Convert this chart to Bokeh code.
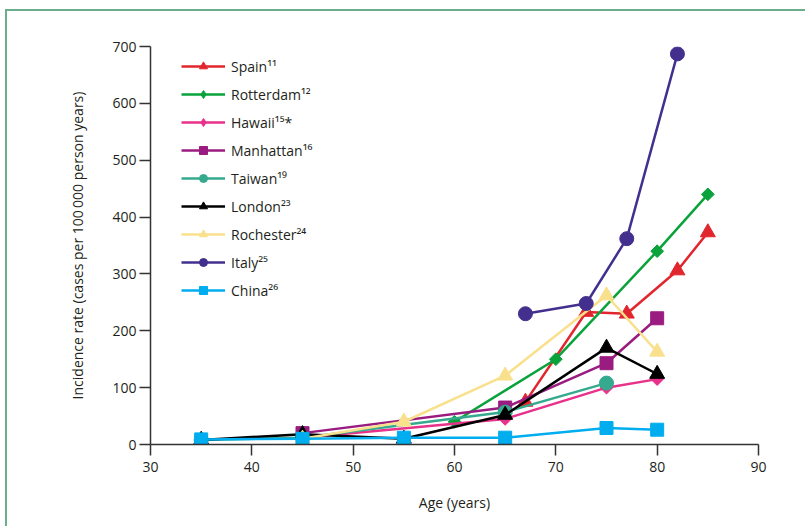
import numpy as np
from bokeh.plotting import figure
from bokeh.models import Legend, LegendItem, FixedTicker, ColumnDataSource, Range1d
from bokeh.embed import file_html
from bokeh.resources import INLINE

# ---- data ----
spain_age = [67, 73, 77, 82, 85]
spain_val = [75, 233, 230, 306, 373]
rotterdam_age = [60, 70, 80, 85]
rotterdam_val = [40, 150, 340, 440]
hawaii_age = [45, 65, 75, 80]
hawaii_val = [12, 45, 100, 115]
manhattan_age = [45, 65, 75, 80]
manhattan_val = [20, 65, 143, 222]
taiwan_age = [35, 45, 65, 75]
taiwan_val = [8, 12, 57, 108]
london_age = [35, 45, 55, 65, 75, 80]
london_val = [8, 18, 10, 52, 170, 124]
rochester_age = [45, 55, 65, 75, 80]
rochester_val = [10, 40, 121, 262, 163]
italy_age = [67, 73, 77, 82]
italy_val = [230, 248, 362, 687]
china_age = [35, 45, 55, 65, 75, 80]
china_val = [9, 10, 12, 12, 29, 26]

x_ticks = [30, 40, 50, 60, 70, 80, 90]
y_ticks = [0, 100, 200, 300, 400, 500, 600, 700]

series = [
    ("Spain\u00b9\u00b9", spain_age, spain_val, "#e1262d", "triangle"),
    ("Rotterdam\u00b9\u00b2", rotterdam_age, rotterdam_val, "#0aa23b", "diamond"),
    ("Hawaii\u00b9\u2075*", hawaii_age, hawaii_val, "#e8318a", "diamond"),
    ("Manhattan\u00b9\u2076", manhattan_age, manhattan_val, "#9a1c80", "square"),
    ("Taiwan\u00b9\u2079", taiwan_age, taiwan_val, "#35aa8e", "circle"),
    ("London\u00b2\u00b3", london_age, london_val, "#000000", "triangle"),
    ("Rochester\u00b2\u2074", rochester_age, rochester_val, "#f9e08c", "triangle"),
    ("Italy\u00b2\u2075", italy_age, italy_val, "#43308e", "circle"),
    ("China\u00b2\u2076", china_age, china_val, "#00adee", "square"),
]

FONT = "Open Sans"
TXT = "#231f20"

p = figure(width=800, height=517, output_backend="svg", toolbar_location=None,
           x_range=(30, 90), y_range=(0, 700),
           min_border_left=143, min_border_right=49,
           min_border_top=35, min_border_bottom=84)
# green page frame: only its left and top edges fall inside the window
p.styles = {"box-shadow": "-2px -2px 0 0 #6aae8c",
            "margin-left": "7px", "margin-top": "11px"}
p.outline_line_color = None
p.xgrid.visible = False
p.ygrid.visible = False
# a range far away, used only so the legend can show a true diamond swatch
p.extra_x_ranges = {"legend_only": Range1d(1000, 1001)}

for ax in (p.xaxis[0], p.yaxis[0]):
    ax.axis_line_color = "#333333"
    ax.axis_line_width = 1.5
    ax.major_tick_line_color = "#333333"
    ax.major_tick_line_width = 1.5
    ax.minor_tick_line_color = None
    ax.major_tick_in = 0
    ax.major_tick_out = 11
    ax.major_label_text_font = FONT
    ax.major_label_text_font_size = "14px"
    ax.major_label_text_color = TXT
    ax.axis_label_text_font = FONT
    ax.axis_label_text_font_size = "14px"
    ax.axis_label_text_font_style = "normal"
    ax.axis_label_text_color = TXT

p.xaxis.ticker = FixedTicker(ticks=x_ticks)
p.yaxis.ticker = FixedTicker(ticks=y_ticks)
p.xaxis.axis_label = "Age (years)"
p.yaxis.axis_label = "Incidence rate (cases per 100\u2009000 person years)"
p.xaxis.major_label_standoff = 6
p.yaxis.major_label_standoff = 3
p.xaxis.axis_label_standoff = 18
p.yaxis.axis_label_standoff = 22

items = []
for name, xs, ys, col, mk in series:
    src = ColumnDataSource(dict(x=xs, y=ys))
    ln = p.line("x", "y", source=src, line_color=col, line_width=2.5)
    rends = [ln]
    if mk == "diamond":
        p.scatter("x", "y", source=src, marker="square", size=9, angle=np.pi / 4,
                  fill_color=col, line_color=col)
        lg = p.scatter("x", "y", source=src, x_range_name="legend_only",
                       marker="diamond", size=17, fill_color=col, line_color=col)
        rends.append(lg)
    elif mk == "triangle":
        sc = p.scatter("x", "y", source=src, marker="triangle", size=15,
                       fill_color=col, line_color=col)
        rends.append(sc)
    elif mk == "square":
        sc = p.scatter("x", "y", source=src, marker="square", size=13,
                       fill_color=col, line_color=col)
        rends.append(sc)
    else:
        sc = p.scatter("x", "y", source=src, marker="circle", size=14,
                       fill_color=col, line_color=col)
        rends.append(sc)
    items.append(LegendItem(label=name, renderers=rends))

legend = Legend(items=items, location=(31, 144))
legend.glyph_width = 44
legend.glyph_height = 20
legend.label_height = 20
legend.spacing = 8
legend.label_standoff = 6
legend.padding = 0
legend.margin = 0
legend.background_fill_alpha = 0
legend.border_line_alpha = 0
legend.label_text_font = FONT
legend.label_text_font_size = "14px"
legend.label_text_color = TXT
p.add_layout(legend)

open("out.html", "w").write(file_html(p, INLINE))
